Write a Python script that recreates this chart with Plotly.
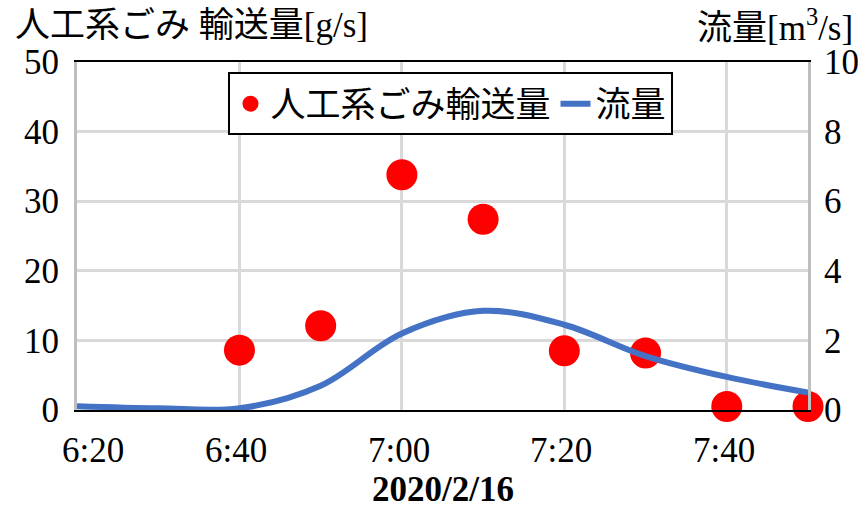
import plotly.graph_objects as go

# Sampling times (10-minute steps on 2020-02-16)
flow_times = ["06:20", "06:30", "06:40", "06:50", "07:00", "07:10",
              "07:20", "07:30", "07:40", "07:50"]
flow_values = [0.11, 0.05, 0.05, 0.70, 2.20, 2.85, 2.45, 1.55, 0.95, 0.50]  # m3/s

litter_times = ["06:40", "06:50", "07:00", "07:10", "07:20", "07:30", "07:40", "07:50"]
litter_values = [8.6, 12.1, 33.8, 27.4, 8.5, 8.2, 0.5, 0.5]  # g/s

tick_times = ["06:20", "06:40", "07:00", "07:20", "07:40"]

DAY = "2020-02-16 "
def ts(hm):
    return DAY + hm + ":00"

FONT = "Liberation Serif, Times New Roman, Noto Sans CJK JP"
FS = 35

fig = go.Figure()

fig.add_trace(go.Scatter(
    x=[ts(t) for t in litter_times], y=litter_values,
    mode="markers", name="人工系ごみ輸送量",
    marker=dict(color="#ff0000", size=31, line=dict(width=0)),
    cliponaxis=False,
    yaxis="y",
))
fig.add_trace(go.Scatter(
    x=[ts(t) for t in flow_times], y=flow_values,
    mode="lines", name="流量",
    line=dict(color="#4472c4", width=6, shape="spline", smoothing=1.0),
    yaxis="y2",
))

# time labels under the axis; the first one is nudged inside the plot edge
time_labels = [
    dict(text=t.lstrip("0"), xref="x", yref="paper",
         x=ts(t), y=-0.117, xanchor="center", yanchor="middle",
         xshift=16 if i == 0 else -3, showarrow=False,
         font=dict(family=FONT, size=FS))
    for i, t in enumerate(tick_times)
]

fig.update_layout(
    width=858, height=509,
    margin=dict(l=77, r=50, t=62, b=99, autoexpand=False),
    paper_bgcolor="white", plot_bgcolor="white",
    font=dict(family=FONT, size=FS, color="black"),
    showlegend=True,
    legend=dict(
        orientation="h",
        x=0.5116, y=0.970, xanchor="center", yanchor="top",
        bgcolor="white", bordercolor="black", borderwidth=2,
        font=dict(family=FONT, size=FS),
        itemwidth=30,
    ),
    xaxis=dict(
        type="date",
        range=[ts("06:20"), ts("07:50")],
        tickvals=[ts(t) for t in tick_times],
        showticklabels=False,
        showgrid=True, gridcolor="#d9d9d9", gridwidth=3,
        showline=True, linecolor="black", linewidth=2, mirror=True,
        ticks="",
        zeroline=False, automargin=False,
    ),
    yaxis=dict(
        range=[0, 50], dtick=10,
        showgrid=True, gridcolor="#d9d9d9", gridwidth=3,
        showline=True, linecolor="#bfbfbf", linewidth=3,
        ticks="", ticklabelstandoff=8,
        zeroline=False, automargin=False,
    ),
    yaxis2=dict(
        range=[0, 10], dtick=2,
        overlaying="y", side="right",
        showgrid=False,
        showline=True, linecolor="#bfbfbf", linewidth=3,
        ticks="", ticklabelstandoff=6,
        zeroline=False, automargin=False,
    ),
    annotations=time_labels + [
        dict(text="人工系ごみ 輸送量[g/s]", xref="paper", yref="paper",
             x=-0.0876, y=1.106, xanchor="left", yanchor="middle",
             showarrow=False, font=dict(family=FONT, size=FS)),
        dict(text="流量[m<sup>3</sup>/s]", xref="paper", yref="paper",
             x=1.064, y=1.106, xanchor="right", yanchor="middle",
             showarrow=False, font=dict(family=FONT, size=FS)),
        dict(text="<b>2020/2/16</b>", xref="paper", yref="paper",
             x=0.5007, y=-0.228, xanchor="center", yanchor="middle",
             showarrow=False, font=dict(family=FONT, size=FS)),
    ],
)

fig.write_html("out.html")
